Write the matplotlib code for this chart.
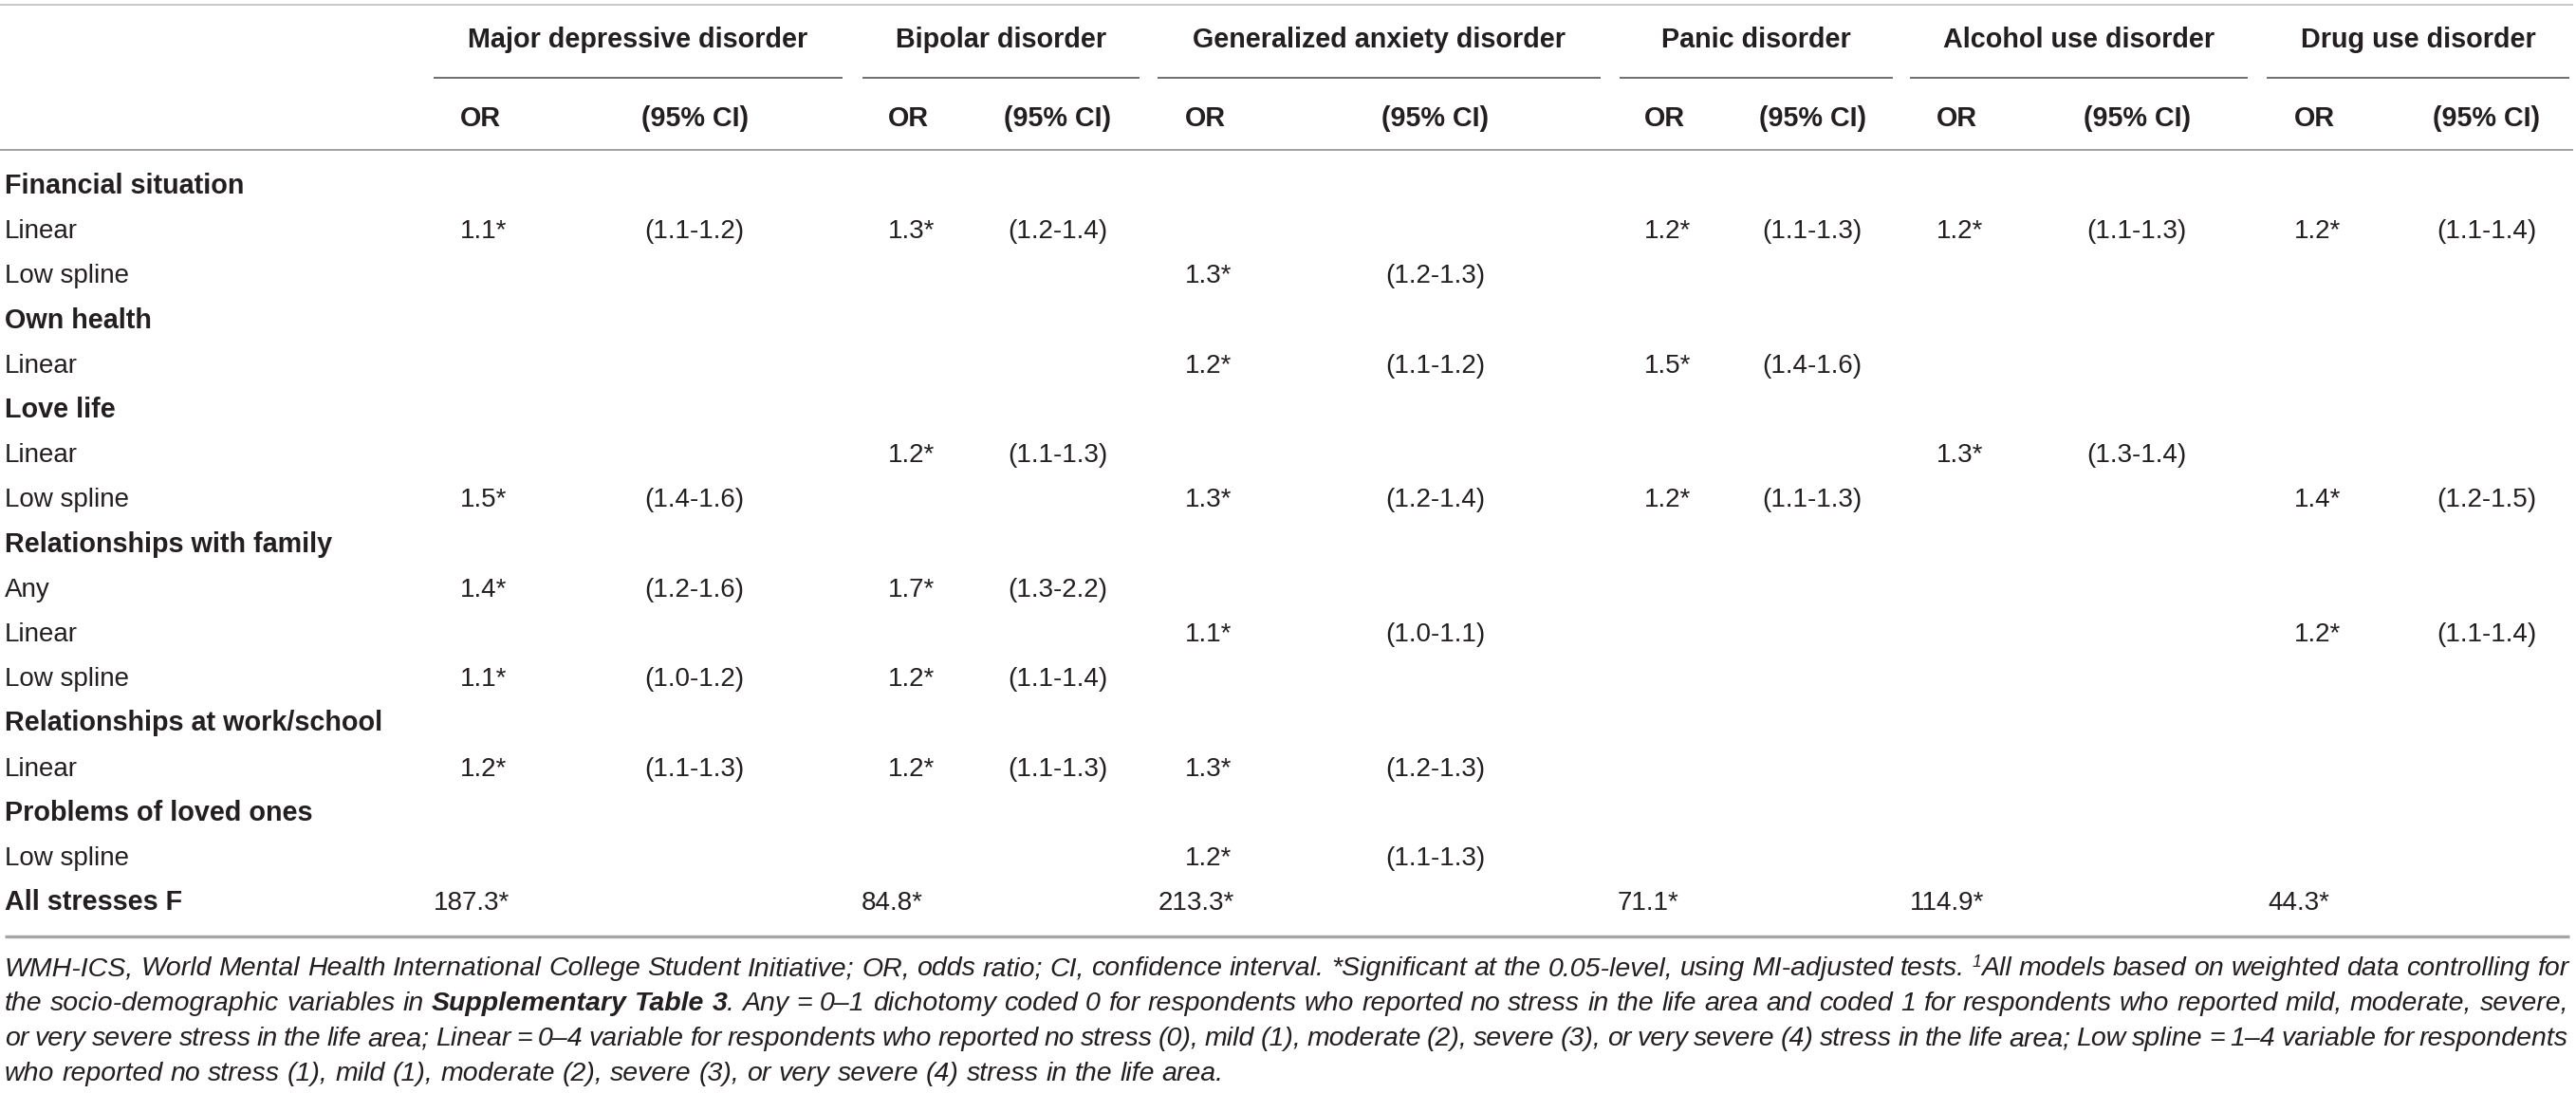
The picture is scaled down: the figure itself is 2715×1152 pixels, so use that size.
import matplotlib
matplotlib.use("Agg")
import matplotlib.pyplot as plt

plt.rcParams['font.family'] = ['Liberation Sans', 'DejaVu Sans']

# ---------------- data ----------------
disorders = ["Major depressive disorder", "Bipolar disorder", "Generalized anxiety disorder",
             "Panic disorder", "Alcohol use disorder", "Drug use disorder"]
sub_headers = ["OR", "(95% CI)"]

categories = ["Financial situation", "Own health", "Love life", "Relationships with family",
              "Relationships at work/school", "Problems of loved ones"]

fin_linear_or = ["1.1*", "1.3*", None, "1.2*", "1.2*", "1.2*"]
fin_linear_ci = ["(1.1-1.2)", "(1.2-1.4)", None, "(1.1-1.3)", "(1.1-1.3)", "(1.1-1.4)"]
fin_spline_or = [None, None, "1.3*", None, None, None]
fin_spline_ci = [None, None, "(1.2-1.3)", None, None, None]
health_linear_or = [None, None, "1.2*", "1.5*", None, None]
health_linear_ci = [None, None, "(1.1-1.2)", "(1.4-1.6)", None, None]
love_linear_or = [None, "1.2*", None, None, "1.3*", None]
love_linear_ci = [None, "(1.1-1.3)", None, None, "(1.3-1.4)", None]
love_spline_or = ["1.5*", None, "1.3*", "1.2*", None, "1.4*"]
love_spline_ci = ["(1.4-1.6)", None, "(1.2-1.4)", "(1.1-1.3)", None, "(1.2-1.5)"]
fam_any_or = ["1.4*", "1.7*", None, None, None, None]
fam_any_ci = ["(1.2-1.6)", "(1.3-2.2)", None, None, None, None]
fam_linear_or = [None, None, "1.1*", None, None, "1.2*"]
fam_linear_ci = [None, None, "(1.0-1.1)", None, None, "(1.1-1.4)"]
fam_spline_or = ["1.1*", "1.2*", None, None, None, None]
fam_spline_ci = ["(1.0-1.2)", "(1.1-1.4)", None, None, None, None]
work_linear_or = ["1.2*", "1.2*", "1.3*", None, None, None]
work_linear_ci = ["(1.1-1.3)", "(1.1-1.3)", "(1.2-1.3)", None, None, None]
loved_spline_or = [None, None, "1.2*", None, None, None]
loved_spline_ci = [None, None, "(1.1-1.3)", None, None, None]

all_stresses_label = "All stresses F"
all_stresses_f = ["187.3*", "84.8*", "213.3*", "71.1*", "114.9*", "44.3*"]

table_rows = [
    (categories[0], None, None),
    ("Linear", fin_linear_or, fin_linear_ci),
    ("Low spline", fin_spline_or, fin_spline_ci),
    (categories[1], None, None),
    ("Linear", health_linear_or, health_linear_ci),
    (categories[2], None, None),
    ("Linear", love_linear_or, love_linear_ci),
    ("Low spline", love_spline_or, love_spline_ci),
    (categories[3], None, None),
    ("Any", fam_any_or, fam_any_ci),
    ("Linear", fam_linear_or, fam_linear_ci),
    ("Low spline", fam_spline_or, fam_spline_ci),
    (categories[4], None, None),
    ("Linear", work_linear_or, work_linear_ci),
    (categories[5], None, None),
    ("Low spline", loved_spline_or, loved_spline_ci),
]

footnote_lines = [
    [("WMH-ICS, World Mental Health International College Student Initiative; OR, odds ratio; CI, "
      "confidence interval. *Significant at the 0.05-level, using MI-adjusted tests. ", "it"),
     ("1", "sup"), ("All models based on weighted data controlling for", "it")],
    [("the socio-demographic variables in ", "it"), ("Supplementary Table 3", "bold"),
     (". Any = 0\u20131 dichotomy coded 0 for respondents who reported no stress in the life area and "
      "coded 1 for respondents who reported mild, moderate, severe,", "it")],
    [("or very severe stress in the life area; Linear = 0\u20134 variable for respondents who reported no "
      "stress (0), mild (1), moderate (2), severe (3), or very severe (4) stress in the life area; "
      "Low spline = 1\u20134 variable for respondents", "it")],
    [("who reported no stress (1), mild (1), moderate (2), severe (3), or very severe (4) stress in the "
      "life area.", "it")],
]

# ---------------- layout ----------------
W, H = 2715, 1152
fig = plt.figure(figsize=(W / 100, H / 100), dpi=100)
ax = fig.add_axes([0, 0, 1, 1])
ax.set_xlim(0, W)
ax.set_ylim(H, 0)
ax.axis("off")

TXT = "#231f20"
FS = 20
FSB = 20.7

group_spans = [(457, 888), (909, 1201), (1220, 1687), (1707, 1995), (2013, 2369), (2389, 2708)]
or_x = [485, 936, 1249, 1733, 2041, 2418]
ci_center = [732, 1115, 1513, 1910, 2252, 2621]
label_x = 5
f_shift = -28

# rules
ax.plot([0, 2712], [5, 5], color="#c4c4c4", lw=1.3, solid_capstyle="butt")
ax.plot([0, 2712], [158, 158], color="#9a9a9a", lw=1.3, solid_capstyle="butt")
ax.plot([5, 2708], [987, 987], color="#a5a5a5", lw=2.4, solid_capstyle="butt")

# headers
for name, (a, b) in zip(disorders, group_spans):
    ax.text((a + b) / 2, 50, name, ha="center", va="baseline", fontsize=FSB,
            fontweight="bold", color=TXT)
    ax.plot([a, b], [82, 82], color="#6e6e6e", lw=1.4, solid_capstyle="butt")
for i in range(len(disorders)):
    ax.text(or_x[i], 133, sub_headers[0], ha="left", va="baseline", fontsize=FSB,
            fontweight="bold", color=TXT)
    ax.text(ci_center[i], 133, sub_headers[1], ha="center", va="baseline", fontsize=FSB,
            fontweight="bold", color=TXT)

# body rows
base0, step = 204, 47.2
for r, (label, ors, cis) in enumerate(table_rows):
    yb = base0 + step * r
    if ors is None:
        ax.text(label_x, yb, label, ha="left", va="baseline", fontsize=FSB,
                fontweight="bold", color=TXT)
        continue
    ax.text(label_x, yb, label, ha="left", va="baseline", fontsize=FS, color=TXT)
    for i in range(len(disorders)):
        if ors[i]:
            ax.text(or_x[i], yb, ors[i], ha="left", va="baseline", fontsize=FS, color=TXT)
        if cis[i]:
            ax.text(ci_center[i], yb, cis[i], ha="center", va="baseline", fontsize=FS, color=TXT)

yb = base0 + step * len(table_rows)
ax.text(label_x, yb, all_stresses_label, ha="left", va="baseline", fontsize=FSB,
        fontweight="bold", color=TXT)
for i, v in enumerate(all_stresses_f):
    ax.text(or_x[i] + f_shift, yb, v, ha="left", va="baseline", fontsize=FS, color=TXT)

# ---------------- footnote (justified, mixed styles) ----------------
renderer = fig.canvas.get_renderer()


def style_kw(st, size):
    if st == "it":
        return dict(fontsize=size, fontstyle="italic")
    if st == "bold":
        return dict(fontsize=size, fontweight="bold", fontstyle="italic")
    if st == "sup":
        return dict(fontsize=size * 0.62, fontstyle="italic")
    return dict(fontsize=size)


def measure(txt, st, size):
    t = ax.text(0, 0, txt, **style_kw(st, size))
    bb = t.get_window_extent(renderer=renderer)
    t.remove()
    return bb.width


def split_groups(segments):
    groups, cur = [], []
    for txt, st in segments:
        parts = txt.split(" ")
        for j, p in enumerate(parts):
            if j > 0:
                if cur:
                    groups.append(cur)
                cur = []
            if p:
                cur.append((p, st))
    if cur:
        groups.append(cur)
    return groups


fx0, fx1 = 5, 2707


def natural_width(segs, size):
    groups = split_groups(segs)
    sp = measure("a a", "it", size) - 2 * measure("a", "it", size)
    return sum(measure(p, st, size) for g in groups for p, st in g) + sp * (len(groups) - 1)


ref_size = 20.0
FFS = ref_size * (fx1 - fx0) / natural_width(footnote_lines[0], ref_size)

foot_base = [1028, 1065, 1102, 1139]
space_w = measure("a a", "it", FFS) - 2 * measure("a", "it", FFS)
for li, segs in enumerate(footnote_lines):
    groups = split_groups(segs)
    widths = [[measure(p, st, FFS) for p, st in g] for g in groups]
    total = sum(sum(w) for w in widths)
    justify = li < len(footnote_lines) - 1
    gap = (fx1 - fx0 - total) / (len(groups) - 1) if justify else space_w
    x = fx0
    yb = foot_base[li]
    for g, ws in zip(groups, widths):
        for (p, st), w in zip(g, ws):
            dy = -9 if st == "sup" else 0
            ax.text(x, yb + dy, p, ha="left", va="baseline", color=TXT, **style_kw(st, FFS))
            x += w
        x += gap

fig.savefig("out.png", dpi=100)
